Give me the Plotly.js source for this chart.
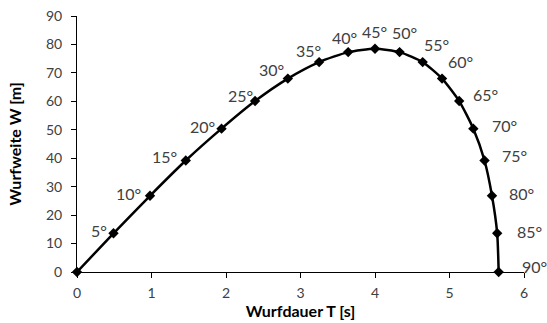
<!DOCTYPE html>
<html><head><meta charset="utf-8">
<script src="https://cdn.plot.ly/plotly-3.0.1.min.js"></script>
<style>html,body{margin:0;padding:0;background:#fff}#c{width:547px;height:323px}</style>
</head><body><div id="c"></div>
<script>
// Abwurfwinkel (Grad)
const angles = [0,5,10,15,20,25,30,35,40,45,50,55,60,65,70,75,80,85,90];
// Wurfdauer T [s]
const T = [0,0.49,0.98,1.46,1.94,2.39,2.83,3.25,3.64,4.00,4.33,4.64,4.90,5.13,5.32,5.47,5.57,5.64,5.66];
// Wurfweite W [m]
const W = [0,13.6,26.8,39.2,50.4,60.1,68.0,73.8,77.3,78.5,77.3,73.8,68.0,60.1,50.4,39.2,26.8,13.6,0];
const xTicks = [0,1,2,3,4,5,6];
const yTicks = [0,10,20,30,40,50,60,70,80,90];

// label offsets (px) relative to each point
const shifts = {5:[-15,3],10:[-22,2],15:[-21,4],20:[-19,2],25:[-15,6],30:[-16,9],35:[-11,12],40:[-4,15],
  45:[-1,17],50:[5,20],55:[14,18],60:[18,17],65:[26,7],70:[31,3],75:[30,5],80:[30,2],85:[32,2],90:[36,6]};

const annotations = [];
angles.forEach((a,i)=>{
  if(!shifts[a]) return;
  annotations.push({x:T[i], y:W[i], xref:'x', yref:'y', text:a+'°', showarrow:false,
    xshift:shifts[a][0], yshift:shifts[a][1], font:{size:16, color:'#404040'}});
});

const font = 'Lato, "Open Sans", sans-serif';
Plotly.newPlot('c',[{
  x:T, y:W, mode:'lines+markers', type:'scatter',
  line:{color:'#000', width:2.5, shape:'spline', smoothing:0.6},
  marker:{symbol:'diamond', size:8, color:'#000'},
  cliponaxis:false, hoverinfo:'none'
}],{
  width:547, height:323,
  margin:{l:77, r:23, t:16, b:51},
  paper_bgcolor:'#fff', plot_bgcolor:'#fff',
  showlegend:false,
  font:{family:font, color:'#404040'},
  xaxis:{range:[0,6], tickvals:xTicks, ticktext:xTicks.map(String), showgrid:false, zeroline:false,
    showline:true, linecolor:'#000', linewidth:1, ticks:'outside', ticklen:5, tickcolor:'#000',
    ticklabelstandoff:3,
    tickfont:{size:14, color:'#404040'},
    title:{text:'<b>Wurfdauer T [s]</b>', font:{size:16, color:'#000'}, standoff:6}},
  yaxis:{range:[0,90], tickvals:yTicks, ticktext:yTicks.map(String), showgrid:false, zeroline:false,
    showline:true, linecolor:'#000', linewidth:1, ticks:'outside', ticklen:5, tickcolor:'#000',
    ticklabelstandoff:6,
    tickfont:{size:14, color:'#404040'},
    title:{text:'<b>Wurfweite W [m]</b>', font:{size:16, color:'#000'}, standoff:20}},
  annotations:annotations
},{staticPlot:true, displayModeBar:false});
</script></body></html>
